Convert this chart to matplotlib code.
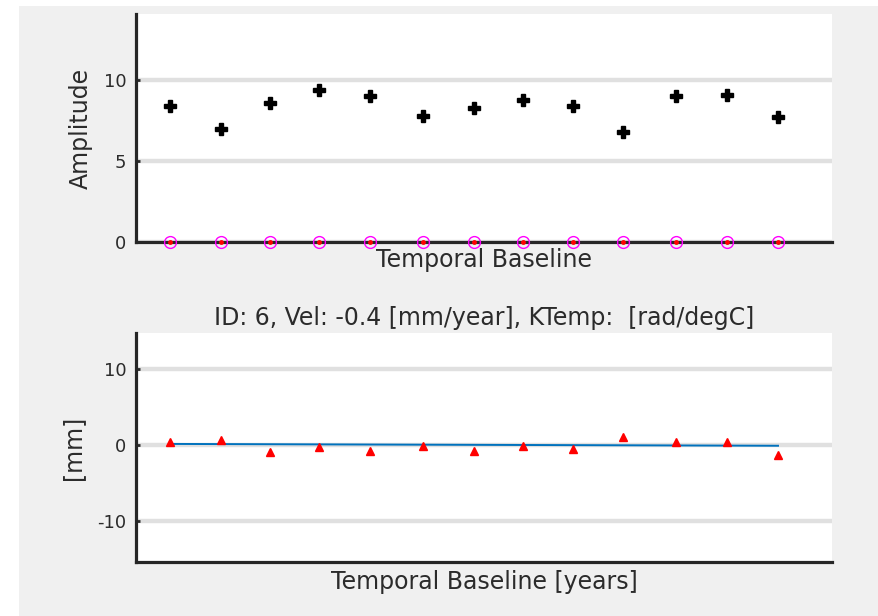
#Amplitud y serie temporal de desplazamiento para un punto (ID 6)

import matplotlib.pyplot as plt
from matplotlib.patches import Rectangle

#Datos
t = [0, 51, 100, 149, 200, 253, 304, 353, 403, 453, 506, 557, 608]  #dias desde la primera fecha
amplitud = [8.4, 7.0, 8.6, 9.4, 9.0, 7.8, 8.3, 8.8, 8.4, 6.8, 9.0, 9.1, 7.7]
amp_cero = [0] * 13
desplaz = [0.35, 0.65, -0.95, -0.3, -0.75, -0.15, -0.75, -0.1, -0.55, 1.0, 0.4, 0.4, -1.35]
t_ajuste = [0, 608]
ajuste = [0.12, -0.12]

titulo = 'ID: 6, Vel: -0.4 [mm/year], KTemp:  [rad/degC]'

gris_txt = '#2b2b2b'
plt.rcParams['font.family'] = 'DejaVu Sans'
plt.rcParams['axes.unicode_minus'] = False
plt.rcParams['text.color'] = gris_txt
plt.rcParams['axes.labelcolor'] = gris_txt
plt.rcParams['xtick.color'] = gris_txt
plt.rcParams['ytick.color'] = gris_txt

fig = plt.figure(figsize=(8.79, 6.16), dpi=100, facecolor='white')
#fondo gris estilo matlab, deja una franja blanca a la izquierda y arriba
fig.patches.append(Rectangle((19 / 879, 0), 1, 610 / 616, transform=fig.transFigure,
                             facecolor='#f0f0f0', edgecolor='none', zorder=-10))


def estilo(ax, yticks, ylim):
    ax.set_xlim(-34, 662)
    ax.set_ylim(*ylim)
    ax.set_yticks(yticks)
    ax.set_xticks([])
    for lado in ['top', 'right']:
        ax.spines[lado].set_visible(False)
    for lado in ['left', 'bottom']:
        ax.spines[lado].set_linewidth(2.3)
        ax.spines[lado].set_color('#262626')
    ax.yaxis.grid(True, color='#e0e0e0', linewidth=3.2)
    ax.set_axisbelow(True)
    ax.tick_params(axis='y', direction='in', length=3, width=2, labelsize=13, pad=7)


#Panel superior: amplitud
ax1 = fig.add_axes([136 / 879, 374 / 616, 696 / 879, 228 / 616])
estilo(ax1, [0, 5, 10], (0, 14.1))
ax1.plot(t, amplitud, linestyle='none', marker='P', color='black', markersize=8)
ax1.plot(t, amp_cero, linestyle='none', marker='o', markerfacecolor='none',
         markeredgecolor='magenta', markersize=8.5, markeredgewidth=1, clip_on=False, zorder=5)
ax1.plot(t, amp_cero, linestyle='none', marker='o', color='red', markersize=3.5,
         markeredgewidth=0, clip_on=False, zorder=6)
ax1.set_ylabel('Amplitude', fontsize=17, labelpad=8)
ax1.set_xlabel('Temporal Baseline', fontsize=17, labelpad=4)

#Panel inferior: desplazamiento
ax2 = fig.add_axes([136 / 879, 54 / 616, 696 / 879, 229 / 616])
estilo(ax2, [-10, 0, 10], (-15.4, 14.7))
ax2.plot(t_ajuste, ajuste, color='#0072BD', linewidth=1.4)
ax2.plot(t, desplaz, linestyle='none', marker='^', color='red', markersize=5.5)
ax2.set_ylabel('[mm]', fontsize=17, labelpad=9)
ax2.set_xlabel('Temporal Baseline [years]', fontsize=17, labelpad=6)
ax2.set_title(titulo, fontsize=17, pad=6)

fig.savefig('out.png', dpi=100)
